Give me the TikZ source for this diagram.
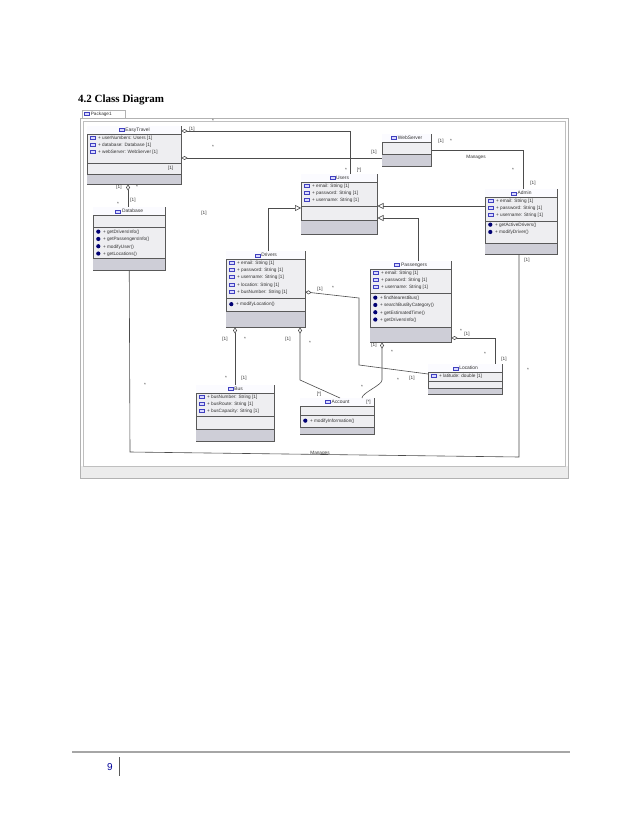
\documentclass[tikz,border=0pt]{standalone}
\usepackage{fontspec}
\setmainfont{Liberation Serif}
\setsansfont{Liberation Sans}
\usetikzlibrary{calc,arrows.meta}

\tikzset{
  classbox/.style={draw=gray!70!black, fill=blue!8!gray!12, inner sep=0pt, line width=0.5pt},
  sep/.style={draw=gray!70!black, line width=0.4pt},
  member/.style={inner sep=0pt, font=\sffamily\fontsize{4.7}{5}\selectfont, text=black!80},
  ctitle/.style={inner sep=0pt, font=\sffamily\fontsize{4.9}{5}\selectfont, text=black!80},
  lbl/.style={inner sep=0pt, font=\sffamily\fontsize{4.7}{5}\selectfont, text=black!80},
  assoc/.style={draw=gray!60!black, line width=0.6pt},
  agg/.style={assoc, {Diamond[open, length=6pt, width=4pt]}-},
  gen/.style={assoc, -{Triangle[open, length=6pt, width=6pt]}},
}

\newcommand{\aicon}{\tikz[baseline=-0.3pt]\draw[blue!50!gray, fill=blue!15, line width=0.3pt] (0,0) rectangle (5pt,3pt);}
\newcommand{\oicon}{\tikz[baseline=-1.8pt]\fill[blue!45!black] (0,0) circle (2.1pt);}

% name, corner, width, height, title, separators, last compartment
\newcommand{\umlclass}[7]{%
  \node (#1) [classbox, minimum width=#3, minimum height=#4, anchor=north west] at (#2) {};
  \fill[white!80!blue!8] ($(#1.north west)+(0.3,0.3)$) rectangle ($(#1.north east)+(-0.3,8)$);
  \fill[blue!10!gray!35] ($(#1.north west)+(0.3,#7)$) rectangle ($(#1.south east)+(-0.3,-0.3)$);
  \node [ctitle] at ($(#1.north)+(0,4.2)$) {\aicon\ #5};
  \foreach \s in {#6} \draw[sep] ($(#1.north west)+(0,\s)$) -- ($(#1.north east)+(0,\s)$);
}
% node, first line, icon, list
\newcommand{\members}[4]{%
  \foreach \t [count=\i from 0] in {#4}
    \node [member, anchor=west] at ($(#1.north west)+(3,{#2+7.3*\i})$) {#3\ \ \t};
}

\begin{document}
\begin{tikzpicture}[x=1pt, y=-1pt]
  \useasboundingbox (0,0) rectangle (638,826);

  % Page
  \node (heading) [anchor=west, inner sep=0pt, font=\bfseries\fontsize{11}{13}\selectfont] at (78,100) {4.2 Class Diagram};
  \draw[gray!70, line width=1.5pt] (72,752) -- (570,752);
  \draw[gray!70!black, line width=0.6pt] (119,757) -- (119,776);
  \node (pagenum) [inner sep=0pt, text=blue!60!black, font=\sffamily\fontsize{10}{12}\selectfont] at (110,767) {9};

  % Frame
  \draw[gray!60, fill=white] (80,118) rectangle (568,478);
  \fill[gray!15] (80.5,466) rectangle (567.5,477.5);
  \draw[gray!50] (83,121) rectangle (565,466);
  \draw[gray!60, fill=white] (82,110) rectangle (125,118);
  \node (pkg) [lbl, anchor=west] at (84,114) {\aicon\ Package1};

  % Classes
  \umlclass{easytravel}{87,126}{94}{58}{EasyTravel}{8,163-126,174-126}{48}
  \members{easytravel}{12}{\aicon}{+ userNumbers: Users [1], + database: Database [1], + webServer: WebServer [1]}
  \node [member, anchor=east] at ($(easytravel.north east)+(-8,42)$) {[1]};
  \umlclass{database}{93,207}{72}{63}{Database}{8,20,51}{51}
  \members{database}{25}{\oicon}{+ getDriversInfo(), + getPassengersInfo(), + modifyUser(), + getLocations()}
  \umlclass{users}{301,174}{76}{60}{Users}{8,32,46}{46}
  \members{users}{12}{\aicon}{+ email: String [1], + password: String [1], + username: String [1]}
  \umlclass{webserver}{382,134}{49}{32}{WebServer}{8,20}{20}
  \umlclass{admin}{485,189}{72}{65}{Admin}{8,32,54}{54}
  \members{admin}{12}{\aicon}{+ email: String [1], + password: String [1], + username: String [1]}
  \members{admin}{36}{\oicon}{+ getActiveDrivers(), + modifyDriver()}
  \umlclass{drivers}{226,251}{79}{76}{Drivers}{8,47,60}{60}
  \members{drivers}{12}{\aicon}{+ email: String [1], + password: String [1], + username: String [1], + location: String [1], + busNumber: String [1]}
  \members{drivers}{53.5}{\oicon}{+ modifyLocation()}
  \umlclass{passengers}{370,261}{81}{81}{Passengers}{8,32,66}{66}
  \members{passengers}{12}{\aicon}{+ email: String [1], + password: String [1], + username: String [1]}
  \members{passengers}{37}{\oicon}{+ findNearestBus(), + searchBusByCategory(), + getEstimatedTime(), + getDriversInfo()}
  \umlclass{location}{428,364}{74}{30}{Location}{8,17,24}{24}
  \members{location}{12.5}{\aicon}{+ latitude: double [1]}
  \umlclass{bus}{196,385}{78}{56}{Bus}{8,31,44}{44}
  \members{bus}{12}{\aicon}{+ busNumber: String [1], + busRoute: String [1], + busCapacity: String [1]}
  \umlclass{account}{300,398}{74}{36}{Account}{8,17,29}{29}
  \members{account}{23}{\oicon}{+ modifyInformation()}
  \node [lbl] at ($(account.north east)+(-6,4)$) {[*]};

  % Associations
  \draw[agg] ($(easytravel.north east)+(0,5)$) -| ($(users.north west)+(49,0)$);
  \draw[agg] ($(easytravel.north east)+(0,32)$) -- ($(webserver.north west)+(0,24)$);
  \draw[assoc] ($(webserver.north east)+(0,16)$) -| ($(admin.north west)+(38,0)$);
  \draw[agg] (easytravel.south -| 128,0) -- (database.north -| 128,0);
  \draw[assoc] (database.south) -- (130,452) -- (519,457) -- ($(admin.south west)+(34,0)$);
  \draw[agg] (drivers.south -| 235,0) -- (bus.north -| 235,0);
  \draw[agg] (drivers.south -| 300,0) -- (300,380) -- ($(account.north west)+(40,0)$);
  \draw[agg] (passengers.south -| 382,0) -- (382,380) to[out=-90, in=90, looseness=0.5] (362,398);
  \draw[agg] ($(drivers.north east)+(0,41)$) -- (359,298) -- (359,365) -- ($(location.north west)+(0,10)$);
  \draw[agg] ($(passengers.north east)+(0,77)$) -| (location.north -| 495,0);

  % Generalizations
  \draw[gen] (drivers.north -| 268,0) |- ($(users.north west)+(0,34)$);
  \draw[gen] ($(admin.north west)+(0,17)$) -- ($(users.north east)+(0,32)$);
  \draw[gen] (passengers.north -| 418,0) |- ($(users.north east)+(0,44)$);

  % Multiplicities
  \node [lbl] at (192,129) {[1]};   \node [lbl] at (213,121) {*};
  \node [lbl] at (346,170) {*};     \node [lbl] at (359,170) {[*]};
  \node [lbl] at (213,147) {*};     \node [lbl] at (374,152) {[1]};
  \node [lbl] at (441,141) {[1]};   \node [lbl] at (451,141) {*};
  \node [lbl] at (476,157) {Manages};
  \node [lbl] at (513,170) {*};     \node [lbl] at (533,183) {[1]};
  \node [lbl] at (119,187) {[1]};   \node [lbl] at (137,187) {*};
  \node [lbl] at (133,200) {[1]};   \node [lbl] at (118,204) {*};
  \node [lbl] at (204,213) {[1]};
  \node [lbl] at (145,385) {*};     \node [lbl] at (527,260) {[1]};
  \node [lbl] at (528,370) {*};     \node [lbl] at (320,453) {Manages};
  \node [lbl] at (320,289) {[1]};   \node [lbl] at (333,288) {*};
  \node [lbl] at (398,380) {*};     \node [lbl] at (412,378) {[1]};
  \node [lbl] at (225,339) {[1]};   \node [lbl] at (245,339) {*};
  \node [lbl] at (226,378) {*};     \node [lbl] at (244,378) {[1]};
  \node [lbl] at (288,339) {[1]};   \node [lbl] at (310,343) {*};
  \node [lbl] at (319,394) {[*]};
  \node [lbl] at (374,345) {[1]};   \node [lbl] at (392,352) {*};
  \node [lbl] at (362,387) {*};
  \node [lbl] at (461,331) {*};     \node [lbl] at (467,334) {[1]};
  \node [lbl] at (485,354) {*};     \node [lbl] at (504,359) {[1]};
\end{tikzpicture}
\end{document}
